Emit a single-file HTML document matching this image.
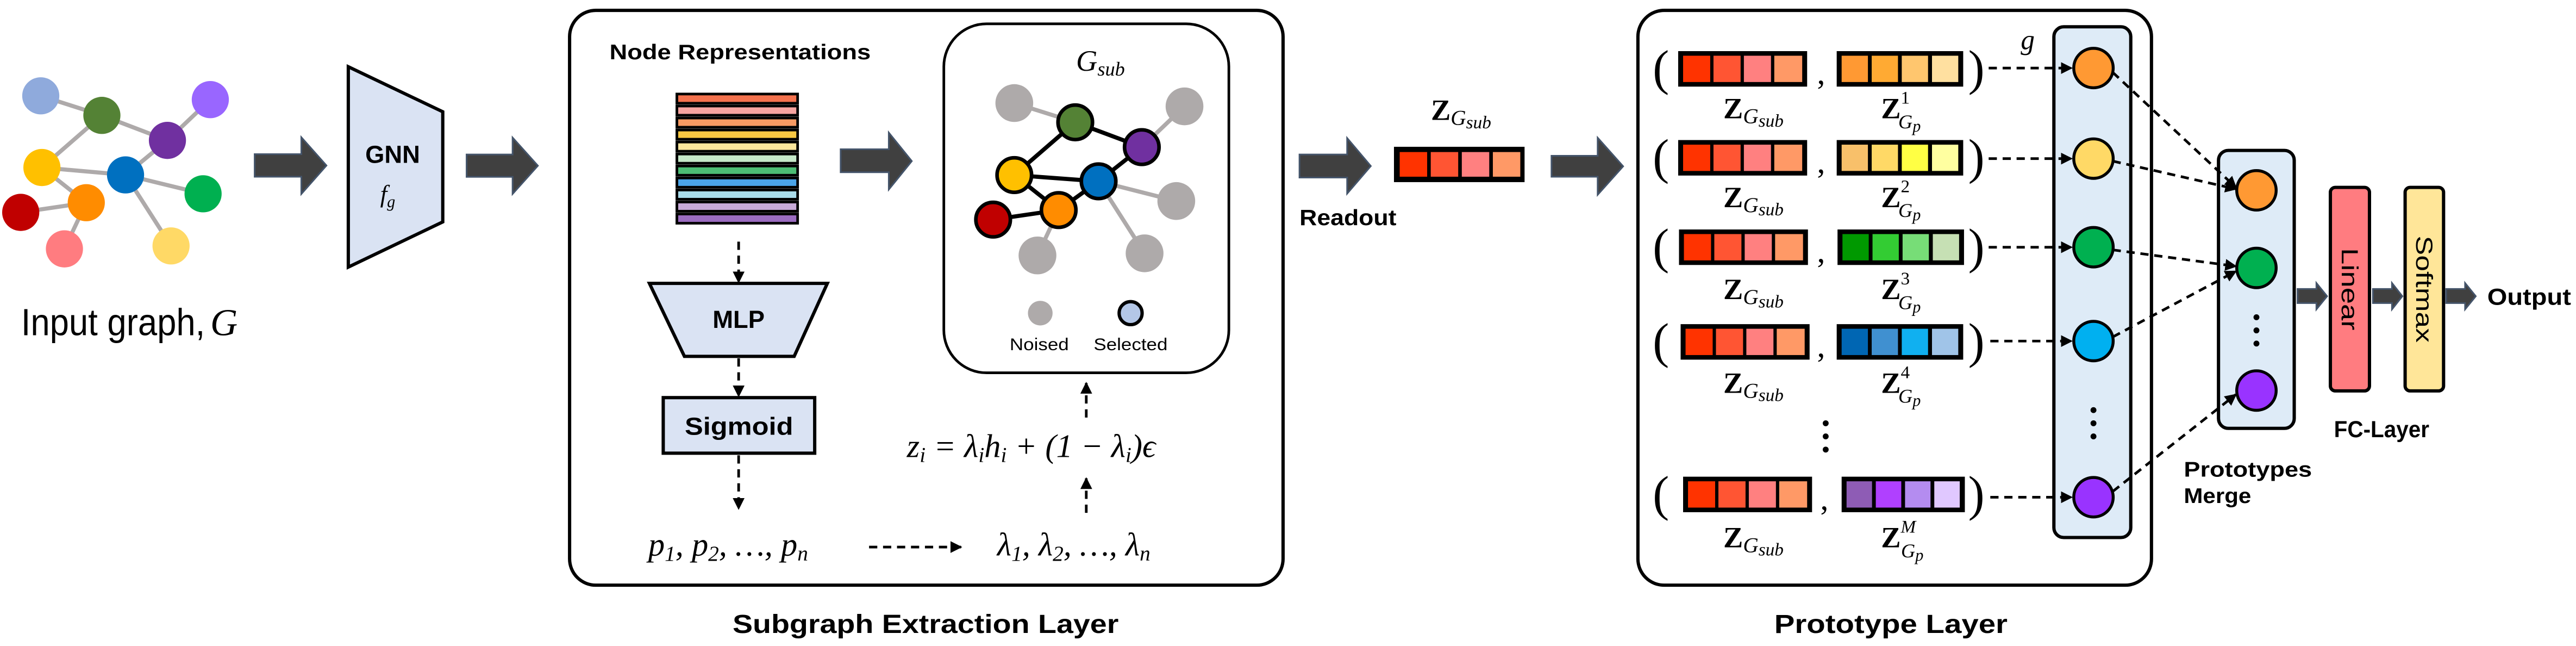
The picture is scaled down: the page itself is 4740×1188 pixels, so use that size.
<!DOCTYPE html>
<html><head><meta charset="utf-8"><style>html,body{margin:0;padding:0;background:#fff}svg{display:block}</style></head>
<body>
<svg width="4740" height="1188" viewBox="0 0 1568 393" xmlns="http://www.w3.org/2000/svg">
<defs>
<marker id="ah" viewBox="0 0 10 10" refX="9" refY="5" markerWidth="4.5" markerHeight="4.5" orient="auto"><path d="M0,0 L10,5 L0,10 z" fill="#000"/></marker>
</defs>
<style>
.b{font-family:"Liberation Sans",sans-serif;font-weight:bold;fill:#000}
.m{font-family:"Liberation Serif",serif;font-style:italic;fill:#000}
.mr{font-family:"Liberation Serif",serif;fill:#000}
.zb{font-family:"Liberation Serif",serif;font-weight:bold;fill:#000}
.d{stroke:#000;stroke-width:1.6;stroke-dasharray:5 3.5;fill:none}
.ba{fill:#404040;stroke:#44546a;stroke-width:1}
</style>
<rect width="1568" height="393" fill="#fff"/>

<!-- Input graph -->
<g stroke="#aeaaaa" stroke-width="2.5">
<line x1="24.8" y1="58.3" x2="62" y2="70.2"/><line x1="62" y1="70.2" x2="101.9" y2="85.4"/>
<line x1="101.9" y1="85.4" x2="128" y2="60.6"/><line x1="62" y1="70.2" x2="25.5" y2="101.9"/>
<line x1="25.5" y1="101.9" x2="76.4" y2="106.4"/><line x1="76.4" y1="106.4" x2="101.9" y2="85.4"/>
<line x1="76.4" y1="106.4" x2="123.6" y2="117.9"/><line x1="76.4" y1="106.4" x2="104.1" y2="149.6"/>
<line x1="25.5" y1="101.9" x2="52.5" y2="123.3"/><line x1="52.5" y1="123.3" x2="12.6" y2="129.2"/>
<line x1="52.5" y1="123.3" x2="39.2" y2="151.4"/>
</g>
<g>
<circle cx="24.8" cy="58.3" r="11.3" fill="#8faadc"/><circle cx="62" cy="70.2" r="11.3" fill="#548235"/>
<circle cx="128" cy="60.6" r="11.3" fill="#9966ff"/><circle cx="101.9" cy="85.4" r="11.3" fill="#7030a0"/>
<circle cx="25.5" cy="101.9" r="11.3" fill="#ffc000"/><circle cx="76.4" cy="106.4" r="11.3" fill="#0070c0"/>
<circle cx="123.6" cy="117.9" r="11.3" fill="#00b050"/><circle cx="12.6" cy="129.2" r="11.3" fill="#c00000"/>
<circle cx="52.5" cy="123.3" r="11.3" fill="#ff8c00"/><circle cx="39.2" cy="151.4" r="11.3" fill="#ff7c80"/>
<circle cx="104.1" cy="149.6" r="11.3" fill="#ffd966"/>
</g>
<text x="12.8" y="204" font-family="Liberation Sans, sans-serif" font-size="23" textLength="112" lengthAdjust="spacingAndGlyphs">Input graph,</text>
<text x="128" y="204" class="m" font-size="23">G</text>

<!-- big arrows -->
<polygon class="ba" points="155,93.8 183.4,93.8 183.4,83.5 198.7,100.7 183.4,118 183.4,107.5 155,107.5"/>
<polygon class="ba" points="284,94 312,94 312,83.7 327.4,100.8 312,118 312,107.6 284,107.6"/>

<!-- GNN -->
<polygon points="212,40.6 269.5,68 269.5,135 212,162.5" fill="#dae3f3" stroke="#000" stroke-width="2"/>
<text x="239" y="99" class="b" font-size="15" text-anchor="middle">GNN</text>
<text x="236" y="123" class="m" font-size="15" text-anchor="middle">f<tspan font-size="10" dy="3">g</tspan></text>

<!-- Subgraph extraction box -->
<rect x="346.7" y="6.3" width="434.3" height="349.7" rx="16" fill="none" stroke="#000" stroke-width="2"/>
<text x="371" y="36" class="b" font-size="13" textLength="159" lengthAdjust="spacingAndGlyphs">Node Representations</text>
<g stroke="#000" stroke-width="1.6">
<rect x="412" y="57.2" width="73.5" height="5.6" fill="#f4724e"/>
<rect x="412" y="64.5" width="73.5" height="5.6" fill="#f6a4a0"/>
<rect x="412" y="71.8" width="73.5" height="5.6" fill="#f79a63"/>
<rect x="412" y="79.1" width="73.5" height="5.6" fill="#f8c843"/>
<rect x="412" y="86.4" width="73.5" height="5.6" fill="#fbe69c"/>
<rect x="412" y="93.7" width="73.5" height="5.6" fill="#c6e8c9"/>
<rect x="412" y="101" width="73.5" height="5.6" fill="#4dbd74"/>
<rect x="412" y="108.3" width="73.5" height="5.6" fill="#4ba4e8"/>
<rect x="412" y="115.6" width="73.5" height="5.6" fill="#aadcea"/>
<rect x="412" y="122.9" width="73.5" height="5.6" fill="#c8aad8"/>
<rect x="412" y="130.2" width="73.5" height="5.6" fill="#9b6cc0"/>
</g>
<line class="d" x1="449.6" y1="147" x2="449.6" y2="171.7" marker-end="url(#ah)"/>
<polygon points="395.3,172.4 503.6,172.4 483.4,216.8 416.6,216.8" fill="#dae3f3" stroke="#000" stroke-width="2"/>
<text x="449.6" y="199.5" class="b" font-size="15" text-anchor="middle">MLP</text>
<line class="d" x1="449.6" y1="218" x2="449.6" y2="241" marker-end="url(#ah)"/>
<rect x="403.7" y="241.9" width="92.2" height="33.8" fill="#dae3f3" stroke="#000" stroke-width="2"/>
<text x="449.8" y="264.5" class="b" font-size="15" text-anchor="middle" textLength="66" lengthAdjust="spacingAndGlyphs">Sigmoid</text>
<line class="d" x1="449.6" y1="277" x2="449.6" y2="309.5" marker-end="url(#ah)"/>
<text x="394.6" y="338" class="m" font-size="20">p<tspan font-size="13" dy="3" class="mr">1</tspan><tspan dy="-3">, p</tspan><tspan font-size="13" dy="3" class="mr">2</tspan><tspan dy="-3">, …, p</tspan><tspan font-size="13" dy="3">n</tspan></text>
<line class="d" x1="529" y1="332.8" x2="585" y2="332.8" marker-end="url(#ah)"/>
<text x="607" y="338" class="m" font-size="20">λ<tspan font-size="13" dy="3" class="mr">1</tspan><tspan dy="-3">, λ</tspan><tspan font-size="13" dy="3" class="mr">2</tspan><tspan dy="-3">, …, λ</tspan><tspan font-size="13" dy="3">n</tspan></text>
<line class="d" x1="661.2" y1="312" x2="661.2" y2="291" marker-end="url(#ah)"/>
<text x="552" y="278" class="m" font-size="20">z<tspan font-size="13" dy="3">i</tspan><tspan dy="-3" class="mr"> = </tspan>λ<tspan font-size="13" dy="3">i</tspan><tspan dy="-3">h</tspan><tspan font-size="13" dy="3">i</tspan><tspan dy="-3" class="mr"> + (1 − </tspan>λ<tspan font-size="13" dy="3">i</tspan><tspan dy="-3" class="mr">)</tspan>ϵ</text>
<line class="d" x1="661.2" y1="254" x2="661.2" y2="233" marker-end="url(#ah)"/>

<!-- inner arrow -->
<polygon class="ba" points="511.7,90.8 541,90.8 541,80.7 555,98 541,115.3 541,104.8 511.7,104.8"/>

<!-- G_sub box -->
<rect x="574.5" y="14.5" width="173.5" height="212.3" rx="26" fill="#fff" stroke="#000" stroke-width="1.6"/>
<text x="655" y="43" class="m" font-size="18">G<tspan font-size="12" dy="3">sub</tspan></text>
<g stroke="#aeaaaa" stroke-width="2.5">
<line x1="617.4" y1="62.7" x2="654.5" y2="74.4"/><line x1="721" y1="64.7" x2="695" y2="89.5"/>
<line x1="668.7" y1="110.3" x2="716" y2="122.3"/><line x1="668.7" y1="110.3" x2="696.7" y2="154.1"/>
<line x1="644.4" y1="127.8" x2="631.5" y2="155.4"/>
</g>
<g fill="#aeaaaa">
<circle cx="617.4" cy="62.7" r="11.5"/><circle cx="721" cy="64.7" r="11.5"/><circle cx="716" cy="122.3" r="11.5"/>
<circle cx="631.5" cy="155.4" r="11.5"/><circle cx="696.7" cy="154.1" r="11.5"/>
</g>
<g stroke="#000" stroke-width="2.5">
<line x1="654.5" y1="74.4" x2="617.4" y2="106.5"/><line x1="654.5" y1="74.4" x2="695" y2="89.5"/>
<line x1="695" y1="89.5" x2="668.7" y2="110.3"/><line x1="617.4" y1="106.5" x2="668.7" y2="110.3"/>
<line x1="617.4" y1="106.5" x2="644.4" y2="127.8"/><line x1="668.7" y1="110.3" x2="644.4" y2="127.8"/>
<line x1="644.4" y1="127.8" x2="604.5" y2="133.6"/>
</g>
<g stroke="#000" stroke-width="2.2">
<circle cx="654.5" cy="74.4" r="10.5" fill="#548235"/><circle cx="695" cy="89.5" r="10.5" fill="#7030a0"/>
<circle cx="617.4" cy="106.5" r="10.5" fill="#ffc000"/><circle cx="668.7" cy="110.3" r="10.5" fill="#0070c0"/>
<circle cx="644.4" cy="127.8" r="10.5" fill="#ff8c00"/><circle cx="604.5" cy="133.6" r="10.5" fill="#c00000"/>
</g>
<circle cx="633.2" cy="190.5" r="7.5" fill="#aeaaaa"/>
<circle cx="688.2" cy="190.5" r="7" fill="#b4c7e7" stroke="#000" stroke-width="2"/>
<text x="632.6" y="213" font-family="Liberation Sans, sans-serif" font-size="10.5" text-anchor="middle" textLength="36" lengthAdjust="spacingAndGlyphs">Noised</text>
<text x="688.2" y="213" font-family="Liberation Sans, sans-serif" font-size="10.5" text-anchor="middle" textLength="45" lengthAdjust="spacingAndGlyphs">Selected</text>
<text x="563.4" y="385" class="b" font-size="16" text-anchor="middle" textLength="235" lengthAdjust="spacingAndGlyphs">Subgraph Extraction Layer</text>

<!-- Readout -->
<polygon class="ba" points="791,94 820,94 820,84 834.4,101 820,117.8 820,108 791,108"/>
<text x="791" y="137" class="b" font-size="13.5" textLength="59" lengthAdjust="spacingAndGlyphs">Readout</text>
<text x="871" y="73" class="zb" font-size="18">Z<tspan class="m" font-weight="normal" font-size="13" dy="3">G</tspan><tspan class="m" font-weight="normal" font-size="11" dy="2">sub</tspan></text>
<rect x="848.5" y="89.3" width="79.5" height="21.5" fill="#000"/>
<rect x="852" y="92.5" width="16.7" height="15" fill="#ff3300"/>
<rect x="870.9" y="92.5" width="16.7" height="15" fill="#ff5533"/>
<rect x="889.8" y="92.5" width="16.7" height="15" fill="#ff8080"/>
<rect x="908.7" y="92.5" width="16.7" height="15" fill="#ff9966"/>
<polygon class="ba" points="944.4,94.8 972.5,94.8 972.5,83.8 988,101.2 972.5,118.5 972.5,107.5 944.4,107.5"/>

<!-- Prototype layer box -->
<rect x="997" y="6.3" width="312.6" height="349.7" rx="16" fill="none" stroke="#000" stroke-width="2"/>
<rect x="1250.2" y="16.3" width="46.8" height="310.7" rx="6" fill="#deebf7" stroke="#000" stroke-width="2"/>
<text x="1230" y="30" class="m" font-size="17">g</text>

<g transform="translate(0,41.9)">
<rect x="1021.5" y="-10.8" width="78.5" height="21.6" fill="#000"/>
<rect x="1024.5" y="-8" width="16.5" height="16" fill="#ff3300"/><rect x="1043" y="-8" width="16.5" height="16" fill="#ff5533"/><rect x="1061.5" y="-8" width="16.5" height="16" fill="#ff8080"/><rect x="1080" y="-8" width="17" height="16" fill="#ff9966"/>
<rect x="1118" y="-10.8" width="77" height="21.6" fill="#000"/>
<rect x="1121" y="-8" width="16" height="16" fill="#ff9933"/><rect x="1139.3" y="-8" width="16" height="16" fill="#ffaa33"/><rect x="1157.6" y="-8" width="16" height="16" fill="#ffc66e"/><rect x="1176" y="-8" width="16" height="16" fill="#ffe0a0"/>
</g>
<g transform="translate(0,96)">
<rect x="1021.5" y="-10.8" width="78.5" height="21.6" fill="#000"/>
<rect x="1024.5" y="-8" width="16.5" height="16" fill="#ff3300"/><rect x="1043" y="-8" width="16.5" height="16" fill="#ff5533"/><rect x="1061.5" y="-8" width="16.5" height="16" fill="#ff8080"/><rect x="1080" y="-8" width="17" height="16" fill="#ff9966"/>
<rect x="1118" y="-10.8" width="77" height="21.6" fill="#000"/>
<rect x="1121" y="-8" width="16" height="16" fill="#f8c06a"/><rect x="1139.3" y="-8" width="16" height="16" fill="#ffd966"/><rect x="1157.6" y="-8" width="16" height="16" fill="#ffff44"/><rect x="1176" y="-8" width="16" height="16" fill="#ffffa0"/>
</g>
<g transform="translate(0,150.4)">
<rect x="1022" y="-10.8" width="78.5" height="21.6" fill="#000"/>
<rect x="1025" y="-8" width="16.5" height="16" fill="#ff3300"/><rect x="1043.5" y="-8" width="16.5" height="16" fill="#ff5533"/><rect x="1062" y="-8" width="16.5" height="16" fill="#ff8080"/><rect x="1080.5" y="-8" width="17" height="16" fill="#ff9966"/>
<rect x="1118.5" y="-10.8" width="77" height="21.6" fill="#000"/>
<rect x="1121.5" y="-8" width="16" height="16" fill="#009900"/><rect x="1139.8" y="-8" width="16" height="16" fill="#33cc33"/><rect x="1158.1" y="-8" width="16" height="16" fill="#77dd77"/><rect x="1176.5" y="-8" width="16" height="16" fill="#c6e0b4"/>
</g>
<g transform="translate(0,208)">
<rect x="1023" y="-10.8" width="78.5" height="21.6" fill="#000"/>
<rect x="1026" y="-8" width="16.5" height="16" fill="#ff3300"/><rect x="1044.5" y="-8" width="16.5" height="16" fill="#ff5533"/><rect x="1063" y="-8" width="16.5" height="16" fill="#ff8080"/><rect x="1081.5" y="-8" width="17" height="16" fill="#ff9966"/>
<rect x="1118" y="-10.8" width="77" height="21.6" fill="#000"/>
<rect x="1121" y="-8" width="16" height="16" fill="#0066b3"/><rect x="1139.3" y="-8" width="16" height="16" fill="#4090d0"/><rect x="1157.6" y="-8" width="16" height="16" fill="#10b0f0"/><rect x="1176" y="-8" width="16" height="16" fill="#a0c4e8"/>
</g>
<g transform="translate(0,300.8)">
<rect x="1024.5" y="-10.8" width="78.5" height="21.6" fill="#000"/>
<rect x="1027.5" y="-8" width="16.5" height="16" fill="#ff3300"/><rect x="1046" y="-8" width="16.5" height="16" fill="#ff5533"/><rect x="1064.5" y="-8" width="16.5" height="16" fill="#ff8080"/><rect x="1083" y="-8" width="17" height="16" fill="#ff9966"/>
<rect x="1121" y="-10.8" width="75" height="21.6" fill="#000"/>
<rect x="1124" y="-8" width="15.5" height="16" fill="#8e5cb5"/><rect x="1141.8" y="-8" width="15.5" height="16" fill="#b040ff"/><rect x="1159.6" y="-8" width="15.5" height="16" fill="#b48cf0"/><rect x="1177.4" y="-8" width="15.5" height="16" fill="#e0c8ff"/>
</g>
<g class="mr" font-size="30">
<text x="1006" y="51.5">(</text><text x="1198" y="51.5">)</text><text x="1106" y="51" font-size="20">,</text>
<text x="1006" y="105.5">(</text><text x="1198" y="105.5">)</text><text x="1106" y="105" font-size="20">,</text>
<text x="1006" y="160">(</text><text x="1198" y="160">)</text><text x="1106" y="159.5" font-size="20">,</text>
<text x="1006" y="217.5">(</text><text x="1198" y="217.5">)</text><text x="1106" y="217" font-size="20">,</text>
<text x="1006" y="310.5">(</text><text x="1198" y="310.5">)</text><text x="1108" y="310" font-size="20">,</text>
</g>
<g class="zb" font-size="18">
<text x="1049" y="72">Z<tspan class="m" font-weight="normal" font-size="13" dy="3">G</tspan><tspan class="m" font-weight="normal" font-size="11" dy="2">sub</tspan></text>
<text x="1145" y="72">Z<tspan class="mr" font-weight="normal" font-size="11" dy="-9">1</tspan><tspan class="m" font-weight="normal" font-size="12" dx="-7" dy="15">G</tspan><tspan class="m" font-weight="normal" font-size="10" dy="2">p</tspan></text>
<text x="1049" y="126">Z<tspan class="m" font-weight="normal" font-size="13" dy="3">G</tspan><tspan class="m" font-weight="normal" font-size="11" dy="2">sub</tspan></text>
<text x="1145" y="126">Z<tspan class="mr" font-weight="normal" font-size="11" dy="-9">2</tspan><tspan class="m" font-weight="normal" font-size="12" dx="-7" dy="15">G</tspan><tspan class="m" font-weight="normal" font-size="10" dy="2">p</tspan></text>
<text x="1049" y="182">Z<tspan class="m" font-weight="normal" font-size="13" dy="3">G</tspan><tspan class="m" font-weight="normal" font-size="11" dy="2">sub</tspan></text>
<text x="1145" y="182">Z<tspan class="mr" font-weight="normal" font-size="11" dy="-9">3</tspan><tspan class="m" font-weight="normal" font-size="12" dx="-7" dy="15">G</tspan><tspan class="m" font-weight="normal" font-size="10" dy="2">p</tspan></text>
<text x="1049" y="239">Z<tspan class="m" font-weight="normal" font-size="13" dy="3">G</tspan><tspan class="m" font-weight="normal" font-size="11" dy="2">sub</tspan></text>
<text x="1145" y="239">Z<tspan class="mr" font-weight="normal" font-size="11" dy="-9">4</tspan><tspan class="m" font-weight="normal" font-size="12" dx="-7" dy="15">G</tspan><tspan class="m" font-weight="normal" font-size="10" dy="2">p</tspan></text>
<text x="1049" y="333">Z<tspan class="m" font-weight="normal" font-size="13" dy="3">G</tspan><tspan class="m" font-weight="normal" font-size="11" dy="2">sub</tspan></text>
<text x="1145" y="333">Z<tspan class="m" font-weight="normal" font-size="11" dy="-9">M</tspan><tspan class="m" font-weight="normal" font-size="12" dx="-9" dy="15">G</tspan><tspan class="m" font-weight="normal" font-size="10" dy="2">p</tspan></text>
</g>
<g fill="#000">
<circle cx="1111.3" cy="257.5" r="1.8"/><circle cx="1111.3" cy="265.5" r="1.8"/><circle cx="1111.3" cy="273.5" r="1.8"/>
<circle cx="1274.3" cy="249.5" r="1.8"/><circle cx="1274.3" cy="257.5" r="1.8"/><circle cx="1274.3" cy="265.5" r="1.8"/>
</g>
<line class="d" x1="1210.5" y1="41.4" x2="1261" y2="41.4" marker-end="url(#ah)"/>
<line class="d" x1="1210.5" y1="96.5" x2="1261" y2="96.5" marker-end="url(#ah)"/>
<line class="d" x1="1210.5" y1="150.4" x2="1261" y2="150.4" marker-end="url(#ah)"/>
<line class="d" x1="1211.5" y1="207.5" x2="1261" y2="207.5" marker-end="url(#ah)"/>
<line class="d" x1="1211.5" y1="302.5" x2="1261" y2="302.5" marker-end="url(#ah)"/>
<g stroke="#000" stroke-width="1.8">
<circle cx="1274.3" cy="41.4" r="12" fill="#ff9933"/><circle cx="1274.3" cy="96.5" r="12" fill="#ffd966"/>
<circle cx="1274.3" cy="150.4" r="12" fill="#00b050"/><circle cx="1274.3" cy="207.5" r="12" fill="#00b0f0"/>
<circle cx="1274.3" cy="302.5" r="12" fill="#9933ff"/>
</g>
<rect x="1350.4" y="91.5" width="46.1" height="169.1" rx="6" fill="#deebf7" stroke="#000" stroke-width="2"/>
<line class="d" x1="1286" y1="44" x2="1361" y2="114" marker-end="url(#ah)"/>
<line class="d" x1="1286" y1="98" x2="1361" y2="115" marker-end="url(#ah)"/>
<line class="d" x1="1286" y1="152" x2="1361" y2="162" marker-end="url(#ah)"/>
<line class="d" x1="1286" y1="205" x2="1361" y2="165" marker-end="url(#ah)"/>
<line class="d" x1="1286" y1="299" x2="1361" y2="240" marker-end="url(#ah)"/>
<g stroke="#000" stroke-width="1.8">
<circle cx="1373.5" cy="115.8" r="12" fill="#ff9933"/><circle cx="1373.5" cy="163" r="12" fill="#00b050"/>
<circle cx="1373.5" cy="237.6" r="12" fill="#9933ff"/>
</g>
<g fill="#000"><circle cx="1373.5" cy="193" r="1.8"/><circle cx="1373.5" cy="201" r="1.8"/><circle cx="1373.5" cy="209" r="1.8"/></g>
<text x="1329.3" y="290" class="b" font-size="13" textLength="78" lengthAdjust="spacingAndGlyphs">Prototypes</text>
<text x="1329.3" y="306" class="b" font-size="13" textLength="41" lengthAdjust="spacingAndGlyphs">Merge</text>
<text x="1151" y="385" class="b" font-size="16" text-anchor="middle" textLength="142" lengthAdjust="spacingAndGlyphs">Prototype Layer</text>

<polygon class="ba" points="1398.5,175.8 1410,175.8 1410,172.2 1416.5,180.2 1410,188.2 1410,184.4 1398.5,184.4"/>
<rect x="1418.5" y="114" width="23.8" height="123.8" rx="3" fill="#ff7c80" stroke="#000" stroke-width="2"/>
<text transform="translate(1430.4,175.9) rotate(90)" font-family="Liberation Sans, sans-serif" font-size="14" text-anchor="middle" dy="5" textLength="50" lengthAdjust="spacingAndGlyphs">Linear</text>
<polygon class="ba" points="1444.4,175.8 1456,175.8 1456,172.2 1462.3,180.2 1456,188.2 1456,184.4 1444.4,184.4"/>
<rect x="1464" y="114" width="23.4" height="123.8" rx="3" fill="#ffe699" stroke="#000" stroke-width="2"/>
<text transform="translate(1475.7,175.9) rotate(90)" font-family="Liberation Sans, sans-serif" font-size="14" text-anchor="middle" dy="5" textLength="65" lengthAdjust="spacingAndGlyphs">Softmax</text>
<polygon class="ba" points="1489,175.8 1500.5,175.8 1500.5,172.2 1507,180.2 1500.5,188.2 1500.5,184.4 1489,184.4"/>
<text x="1514" y="185.5" class="b" font-size="14" textLength="51" lengthAdjust="spacingAndGlyphs">Output</text>
<text x="1420.7" y="266" class="b" font-size="14" textLength="58" lengthAdjust="spacingAndGlyphs">FC-Layer</text>
</svg>
</body></html>
